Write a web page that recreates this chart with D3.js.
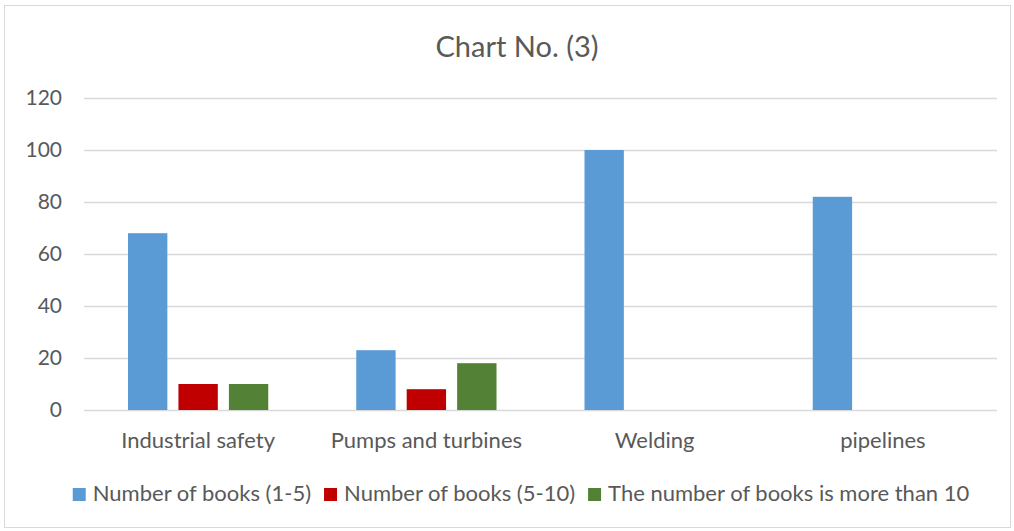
<!DOCTYPE html>
<html><head><meta charset="utf-8">
<script src="https://cdn.jsdelivr.net/npm/d3@7"></script>
<style>
html,body{margin:0;padding:0;background:#fff;}
svg{display:block;font-family:Lato, "Open Sans", sans-serif;}
</style></head>
<body>
<svg id="chart" width="1014" height="531"></svg>
<script>
const title = "Chart No. (3)";
const categories = ["Industrial safety", "Pumps and turbines", "Welding", "pipelines"];
const seriesNames = ["Number of books (1-5)", "Number of books (5-10)", "The number of books is more than 10"];
const seriesColors = ["#5B9BD5", "#C00000", "#538135"];
const books1to5 = [68, 23, 100, 82];
const books5to10 = [10, 8, 0, 0];
const booksMoreThan10 = [10, 18, 0, 0];
const yTicks = [0, 20, 40, 60, 80, 100, 120];

const seriesValues = [books1to5, books5to10, booksMoreThan10];
const svg = d3.select("#chart");
const W = 1014, H = 531;
const m = {left: 84, right: 17, top: 98, bottom: 121};

svg.append("rect").attr("x", 4.5).attr("y", 5.5).attr("width", W - 8).attr("height", H - 9)
  .attr("fill", "#fff").attr("stroke", "#d9d9d9").attr("stroke-width", 1);

const x = d3.scaleBand().domain(categories).range([m.left, W - m.right]).paddingInner(0).paddingOuter(0);
const inner = d3.scaleBand().domain(d3.range(seriesNames.length)).range([44, x.bandwidth() - 44]).paddingInner(0.22);
const y = d3.scaleLinear().domain([0, 120]).range([H - m.bottom, m.top]);

// gridlines
svg.append("g").selectAll("line").data(yTicks).join("line")
  .attr("x1", m.left).attr("x2", W - m.right)
  .attr("y1", d => Math.round(y(d)) + 0.5).attr("y2", d => Math.round(y(d)) + 0.5)
  .attr("stroke", "#d9d9d9").attr("stroke-width", 1.3);

// y labels
const yAxis = d3.axisLeft(y).tickValues(yTicks).tickSize(0).tickPadding(0);
const gy = svg.append("g").attr("transform", `translate(62,0)`).call(yAxis);
gy.select(".domain").remove();
gy.selectAll("text").attr("fill", "#595959").style("font-size", "21px").style("font-family", "Lato, sans-serif");

// bars
const groups = svg.append("g").selectAll("g").data(categories).join("g")
  .attr("transform", d => `translate(${x(d)},0)`);
groups.selectAll("rect").data((d, i) => seriesValues.map((s, j) => ({j, v: s[i]})))
  .join("rect")
  .attr("x", d => inner(d.j)).attr("width", inner.bandwidth())
  .attr("y", d => y(d.v)).attr("height", d => y(0) - y(d.v))
  .attr("fill", d => seriesColors[d.j]);

// x labels
const xAxis = d3.axisBottom(x).tickSize(0).tickPadding(0);
const gx = svg.append("g").attr("transform", `translate(0,448)`).call(xAxis);
gx.select(".domain").remove();
gx.selectAll("text").attr("fill", "#595959").style("font-size", "22px").style("font-family", "Lato, sans-serif").attr("y", 0).attr("dy", "0");

// title
svg.append("text").attr("x", 517).attr("y", 57).attr("text-anchor", "middle")
  .attr("fill", "#595959").style("font-size", "29px").text(title);

// legend
const legend = svg.append("g");
const items = [];
seriesNames.forEach((n, i) => {
  const g = legend.append("g");
  g.append("rect").attr("x", 0).attr("y", -13).attr("width", 13).attr("height", 13).attr("fill", seriesColors[i]);
  const t = g.append("text").attr("x", 20).attr("y", 0)
    .attr("fill", "#595959").style("font-size", "22px").text(n);
  items.push({g, w: 20 + t.node().getComputedTextLength()});
});
const gap = 13;
const total = d3.sum(items, d => d.w) + gap * (items.length - 1);
let lx = 521 - total / 2;
items.forEach(it => { it.g.attr("transform", `translate(${lx},501)`); lx += it.w + gap; });
</script>
</body></html>
